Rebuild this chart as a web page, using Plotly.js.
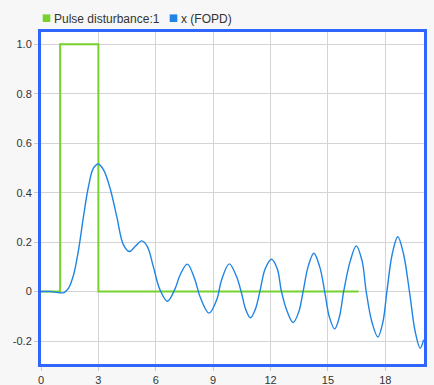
<!DOCTYPE html>
<html>
<head>
<meta charset="utf-8">
<script src="https://cdn.plot.ly/plotly-3.0.1.min.js"></script>
<style>
html,body{margin:0;padding:0;background:#f7f7f7;}
#chart{width:434px;height:385px;}
</style>
</head>
<body>
<div id="chart"></div>
<script>
// Pulse disturbance:1
const pulseT = [0, 1, 1, 3, 3, 16.6];
const pulseY = [0, 0, 1, 1, 0, 0];

// x (FOPD)
const fopdT = [0, 0.5, 0.9, 1.2, 1.44, 1.7, 1.96, 2.22, 2.48, 2.74, 3.0, 3.27, 3.61, 3.96, 4.31, 4.62, 4.92, 5.27, 5.56, 5.87, 6.22, 6.61, 7.01, 7.27, 7.65, 8.05, 8.31, 8.78, 9.18, 9.44, 9.84, 10.22, 10.48, 10.7, 10.95, 11.2, 11.44, 11.72, 12.05, 12.35, 12.57, 12.88, 13.18, 13.47, 13.7, 13.96, 14.26, 14.57, 14.83, 15.07, 15.35, 15.6, 15.82, 16.17, 16.48, 16.78, 17.0, 17.3, 17.61, 17.87, 18.08, 18.36, 18.65, 18.95, 19.26, 19.56, 19.82, 20.0];
const fopdY = [0, 0, -0.004, -0.004, 0.014, 0.067, 0.168, 0.303, 0.424, 0.499, 0.516, 0.492, 0.418, 0.303, 0.189, 0.162, 0.182, 0.205, 0.182, 0.101, 0.007, -0.039, 0.012, 0.067, 0.111, 0.047, -0.02, -0.087, -0.034, 0.047, 0.112, 0.061, -0.006, -0.072, -0.106, -0.072, 0.0, 0.092, 0.131, 0.092, 0.0, -0.083, -0.125, -0.083, 0.0, 0.1, 0.155, 0.1, 0.0, -0.102, -0.151, -0.102, 0.0, 0.125, 0.185, 0.125, 0.0, -0.124, -0.184, -0.124, 0.0, 0.152, 0.222, 0.152, 0.0, -0.162, -0.229, -0.195];

const seriesNames = ["Pulse disturbance:1", "x (FOPD)"];
const seriesColors = ["#77d22e", "#1f84e6"];

const xTicks = [0, 3, 6, 9, 12, 15, 18];
const yTicks = [-0.2, 0, 0.2, 0.4, 0.6, 0.8, 1.0];
const yTickText = ["-0.2", "0", "0.2", "0.4", "0.6", "0.8", "1.0"];

const traces = [
  {x: pulseT, y: pulseY, mode: "lines", name: seriesNames[0], line: {color: seriesColors[0], width: 2}, showlegend: false, hoverinfo: "skip"},
  {x: fopdT, y: fopdY, mode: "lines", name: seriesNames[1], line: {color: seriesColors[1], width: 1.4, shape: "spline", smoothing: 1}, showlegend: false, hoverinfo: "skip"}
];

// custom legend (square swatches + labels) placed above the plot area
const plotW = 434 - 41 - 10;
const legendTextX = [54, 181];
const legendSwatchX = [46.5, 173.5];
const shapes = [];
const annotations = [];
seriesNames.forEach((n, i) => {
  shapes.push({type: "rect", xref: "paper", yref: "paper", xsizemode: "pixel", ysizemode: "pixel",
    xanchor: (legendSwatchX[i] - 41) / plotW, yanchor: 1, x0: -3.8, x1: 3.8, y0: 10, y1: 17.6,
    fillcolor: seriesColors[i], line: {width: 0}});
  annotations.push({xref: "paper", yref: "paper", x: (legendTextX[i] - 41) / plotW, y: 1, xanchor: "left", yanchor: "middle",
    yshift: 13.5, xshift: -2, text: n, showarrow: false, font: {size: 12, color: "#333333"}});
});

const layout = {
  width: 434, height: 385,
  paper_bgcolor: "#f7f7f7",
  plot_bgcolor: "#ffffff",
  margin: {l: 41, r: 10, t: 32, b: 21, pad: 0},
  font: {family: "Liberation Sans, Arial, sans-serif", size: 11, color: "#333333"},
  showlegend: false,
  shapes: shapes,
  annotations: annotations,
  xaxis: {range: [0, 20.02], tickvals: xTicks, ticktext: xTicks.map(String), showgrid: true, gridcolor: "#d4d4d4", gridwidth: 1,
          zeroline: false, showline: true, mirror: true, linecolor: "#2f66ff", linewidth: 3,
          ticks: "outside", ticklen: 4, tickcolor: "#c8c8c8", tickfont: {size: 11, color: "#333333"}},
  yaxis: {range: [-0.293, 1.050], tickvals: yTicks, ticktext: yTickText, showgrid: true, gridcolor: "#d4d4d4", gridwidth: 1,
          zeroline: false, showline: true, mirror: true, linecolor: "#2f66ff", linewidth: 3,
          ticks: "outside", ticklen: 4, tickcolor: "#c8c8c8", tickfont: {size: 11, color: "#333333"}}
};

Plotly.newPlot("chart", traces, layout, {displayModeBar: false, staticPlot: true});
</script>
</body>
</html>
